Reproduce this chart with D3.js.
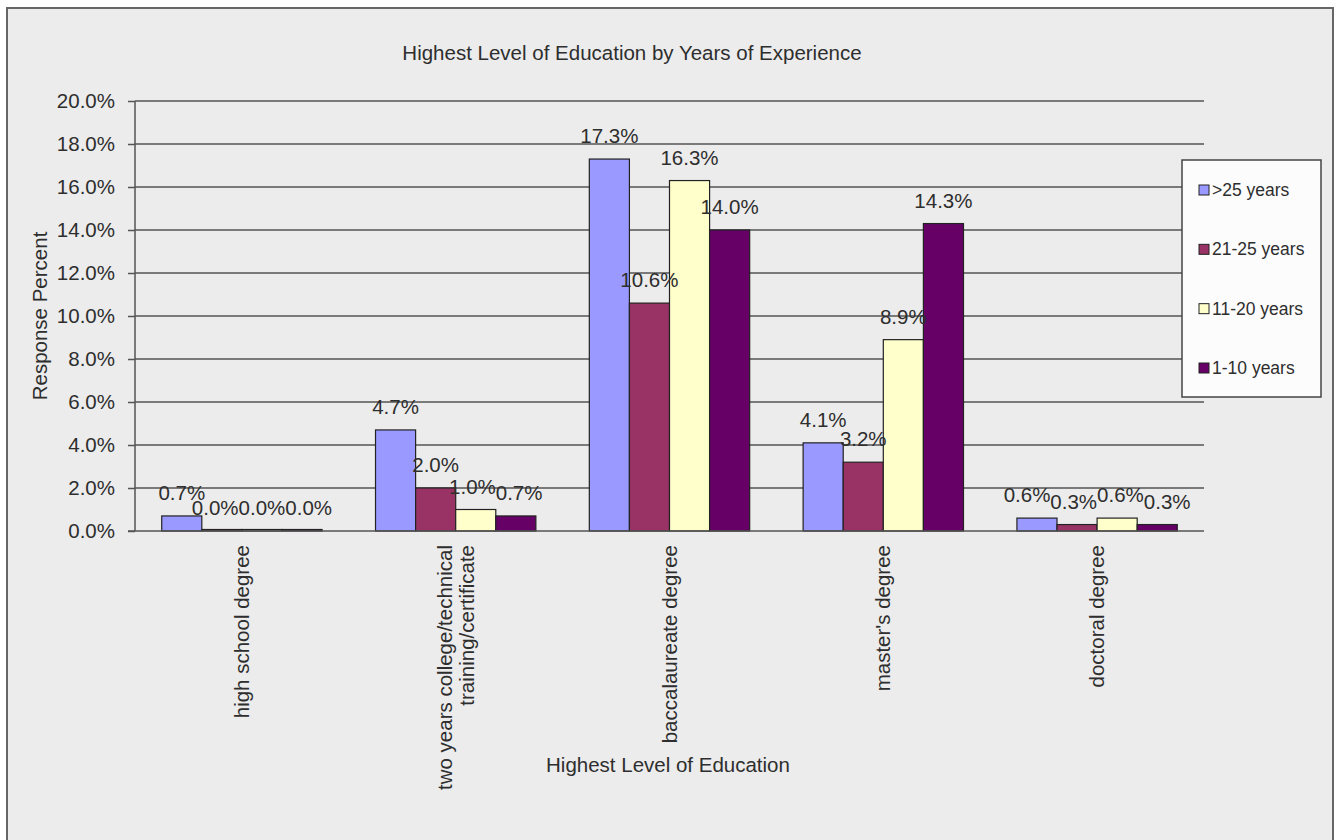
<!DOCTYPE html>
<html><head><meta charset="utf-8">
<script src="https://cdn.jsdelivr.net/npm/d3@7"></script>
<style>
html,body{margin:0;padding:0;background:#fff;}
svg{display:block;font-family:"Liberation Sans",Arial,sans-serif;}
</style></head>
<body>
<svg id="chart" width="1336" height="840"></svg>
<script>
const categories = ["high school degree", "two years college/technical training/certificate", "baccalaureate degree", "master's degree", "doctoral degree"];
const categoryLines = [["high school degree"], ["two years college/technical", "training/certificate"], ["baccalaureate degree"], ["master's degree"], ["doctoral degree"]];
const seriesNames = [">25 years", "21-25 years", "11-20 years", "1-10 years"];
const seriesColors = ["#9999FF", "#993366", "#FFFFCC", "#660066"];
const over25 = [0.7, 4.7, 17.3, 4.1, 0.6];
const y21to25 = [0.0, 2.0, 10.6, 3.2, 0.3];
const y11to20 = [0.0, 1.0, 16.3, 8.9, 0.6];
const y1to10 = [0.0, 0.7, 14.0, 14.3, 0.3];
const yTicks = [0, 2, 4, 6, 8, 10, 12, 14, 16, 18, 20];

const seriesValues = [over25, y21to25, y11to20, y1to10];
const svg = d3.select("#chart");
const plot = {left: 135, right: 1204, top: 101, bottom: 531};
const FS = 20.5;
const TXT = "#2e2e2e";

// frame
svg.append("rect").attr("x", 7).attr("y", 8).attr("width", 1326).attr("height", 840)
  .attr("fill", "#ececec").attr("stroke", "#666").attr("stroke-width", 2);

const x0 = d3.scaleBand().domain(categories).range([plot.left, plot.right]).paddingInner(0.25).paddingOuter(0.125);
const x1 = d3.scaleBand().domain(seriesNames).range([0, x0.bandwidth()]);
const y = d3.scaleLinear().domain([0, 20]).range([plot.bottom, plot.top]);

// gridlines
svg.append("g").selectAll("line").data(yTicks.filter(d => d > 0)).join("line")
  .attr("x1", plot.left).attr("x2", plot.right)
  .attr("y1", d => y(d)).attr("y2", d => y(d))
  .attr("stroke", "#555").attr("stroke-width", 1.5);

// y axis
const yAxis = d3.axisLeft(y).tickValues(yTicks).tickSize(7).tickFormat(d => d.toFixed(1) + "%");
const ga = svg.append("g").attr("transform", `translate(${plot.left},0)`).call(yAxis);
ga.select(".domain").attr("stroke", "#555").attr("stroke-width", 1.5).attr("d", `M0,${plot.top}V${plot.bottom}`);
ga.selectAll(".tick line").attr("stroke", "#555").attr("stroke-width", 1.5);
ga.selectAll(".tick text").attr("font-size", FS).attr("fill", TXT).attr("x", -20)
  .attr("font-family", "'Liberation Sans', Arial, sans-serif");

// bars
const groups = svg.append("g").selectAll("g").data(categories).join("g")
  .attr("transform", d => `translate(${x0(d)},0)`);
groups.selectAll("rect").data((d, i) => seriesNames.map((s, j) => ({s, j, v: seriesValues[j][i]})))
  .join("rect")
  .attr("x", d => x1(d.s)).attr("width", x1.bandwidth())
  .attr("y", d => Math.min(y(d.v), plot.bottom - 1.5)).attr("height", d => Math.max(plot.bottom - y(d.v), 1.5))
  .attr("fill", d => seriesColors[d.j]).attr("stroke", "#222").attr("stroke-width", 1.2);

// x axis baseline
svg.append("line").attr("x1", plot.left - 7).attr("x2", plot.right).attr("y1", plot.bottom).attr("y2", plot.bottom)
  .attr("stroke", "#555").attr("stroke-width", 1.5);

// data labels with simple horizontal de-overlap (like the spreadsheet's label placement)
groups.each(function(cat, i) {
  const g = d3.select(this);
  const items = seriesNames.map((s, j) => ({s, j, v: seriesValues[j][i]}));
  const texts = g.selectAll("text.lbl").data(items).join("text").attr("class", "lbl")
    .attr("y", d => y(d.v) - 16)
    .attr("text-anchor", "middle").attr("font-size", FS).attr("fill", TXT)
    .text(d => d.v.toFixed(1) + "%");
  const h = FS * 0.72;
  texts.each(function(d) {
    d.w = this.getComputedTextLength();
    d.cx = x1(d.s) + x1.bandwidth() / 2;
    d.cy = y(d.v) - 16 - h / 2;
  });
  // cascade to the right, chain by chain, then recentre each chain
  let chain = [items[0]];
  const chains = [];
  for (let k = 1; k < items.length; k++) {
    const a = items[k - 1], b = items[k];
    const minGap = (a.w + b.w) / 2;
    if (Math.abs(a.cy - b.cy) < h && b.cx - a.cx < minGap) {
      b.cx = a.cx + minGap;
      chain.push(b);
    } else { chains.push(chain); chain = [b]; }
  }
  chains.push(chain);
  chains.forEach(ch => {
    if (ch.length < 2) return;
    const shift = d3.mean(ch, d => d.cx - (x1(d.s) + x1.bandwidth() / 2));
    ch.forEach(d => d.cx -= shift);
  });
  texts.attr("x", d => d.cx);
});

// category labels (rotated)
categories.forEach((c, i) => {
  const lines = categoryLines[i];
  const cx = x0(c) + x0.bandwidth() / 2;
  const t = svg.append("text")
    .attr("transform", `translate(${cx},${plot.bottom + 14}) rotate(-90)`)
    .attr("text-anchor", "end").attr("font-size", FS).attr("fill", TXT);
  lines.forEach((ln, k) => {
    t.append("tspan").attr("x", 0)
      .attr("dy", k === 0 ? (lines.length === 1 ? "0.35em" : "-0.2em") : "1.1em")
      .text(ln);
  });
});

// title
svg.append("text").attr("x", 632).attr("y", 60).attr("text-anchor", "middle")
  .attr("font-size", FS).attr("fill", TXT).text("Highest Level of Education by Years of Experience");
// axis titles
svg.append("text").attr("x", 668).attr("y", 772).attr("text-anchor", "middle")
  .attr("font-size", FS).attr("fill", TXT).text("Highest Level of Education");
svg.append("text").attr("transform", "translate(47,316) rotate(-90)").attr("text-anchor", "middle")
  .attr("font-size", FS).attr("fill", TXT).text("Response Percent");

// legend
const lg = svg.append("g");
lg.append("rect").attr("x", 1182).attr("y", 160).attr("width", 139).attr("height", 237)
  .attr("fill", "#fcfcfc").attr("stroke", "#444").attr("stroke-width", 1.5);
const ly = d3.scalePoint().domain(seriesNames).range([190, 368]);
seriesNames.forEach((s, j) => {
  lg.append("rect").attr("x", 1199).attr("y", ly(s) - 5).attr("width", 10).attr("height", 10)
    .attr("fill", seriesColors[j]).attr("stroke", "#222").attr("stroke-width", 1);
  lg.append("text").attr("x", 1212).attr("y", ly(s)).attr("dy", "0.35em")
    .attr("font-size", 17.5).attr("fill", TXT).text(s);
});
</script>
</body></html>
